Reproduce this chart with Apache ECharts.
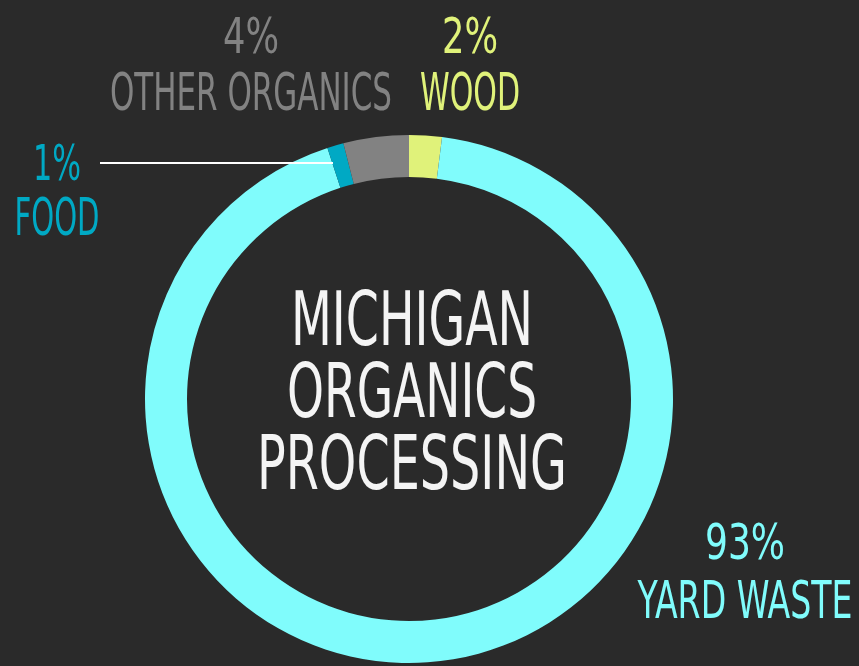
<!DOCTYPE html>
<html>
<head>
<meta charset="utf-8">
<script src="https://cdn.jsdelivr.net/npm/echarts@6/dist/echarts.min.js"></script>
<style>
  html, body { margin: 0; padding: 0; background: #2a2a2a; }
  #chart { width: 859px; height: 666px; }
</style>
</head>
<body>
<div id="chart"></div>
<script>
// clockwise from 12 o'clock
const categories = ['WOOD', 'YARD WASTE', 'FOOD', 'OTHER ORGANICS']
const shares = [2, 93, 1, 4]
const colors = ['#e0f27a', '#80fcfc', '#00a9c4', '#828282']
const titleLines = ['MICHIGAN', 'ORGANICS', 'PROCESSING']

const FONT = '"Liberation Sans Narrow", "DejaVu Sans Condensed", sans-serif'
const measure = document.createElement('canvas').getContext('2d')

// squeeze text horizontally to a target width (source font is very condensed)
const fitText = (text, size, x, y, width, fill) => {
  const font = `normal ${size}px ${FONT}`
  measure.font = font
  const w = measure.measureText(text).width
  return {
    type: 'text', x, y, scaleX: width / w, scaleY: 1,
    style: { text, font, fill, textAlign: 'center', textVerticalAlign: 'top' }
  }
}

// label placement: [centerX, pct top, name top, pct width, name width]
const labelLayout = [
  [470, 15, 70, 56, 100],
  [745, 521, 578, 80, 215],
  [57, 142, 195, 48, 85],
  [251, 15, 70, 56, 282]
]

const chart = echarts.init(document.getElementById('chart'))

const labels = []
categories.forEach((name, i) => {
  const [cx, t1, t2, w1, w2] = labelLayout[i]
  labels.push(fitText(shares[i] + '%', 50, cx, t1, w1, colors[i]))
  labels.push(fitText(name, 52, cx, t2, w2, colors[i]))
})
const titleWidths = [242, 250, 310]
titleLines.forEach((line, i) => {
  labels.push(fitText(line, 75, 412, 288 + i * 72, titleWidths[i], '#f4f4f4'))
})
labels.push({
  type: 'line',
  shape: { x1: 100, y1: 163, x2: 333, y2: 163 },
  style: { stroke: '#ffffff', lineWidth: 2 },
  z: 10
})

chart.setOption({
  backgroundColor: '#2a2a2a',
  animation: false,
  color: colors,
  series: [{
    type: 'pie',
    center: [409, 399],
    radius: [222, 264],
    startAngle: 90,
    clockwise: true,
    label: { show: false },
    labelLine: { show: false },
    itemStyle: { borderWidth: 0 },
    data: categories.map((name, i) => ({ name, value: shares[i] }))
  }],
  graphic: labels
})
</script>
</body>
</html>
